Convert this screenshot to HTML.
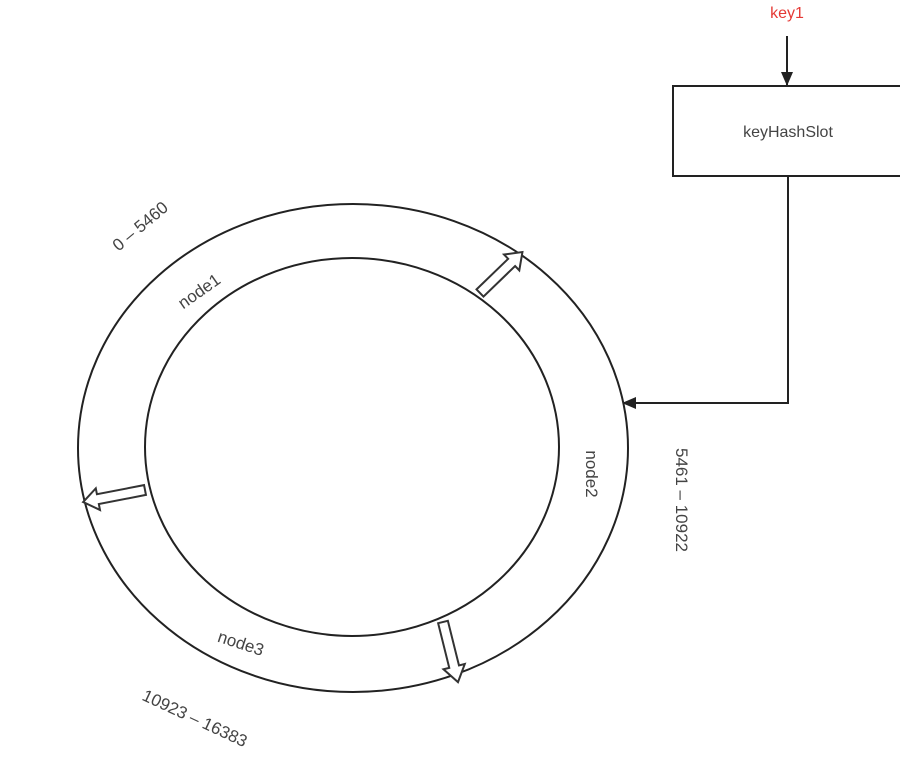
<!DOCTYPE html>
<html><head><meta charset="utf-8"><style>
html,body{margin:0;padding:0;background:#fff;width:900px;height:773px;overflow:hidden}
text{font-family:"Liberation Sans",sans-serif;fill:#444;font-size:17px}
</style></head><body>
<svg width="900" height="773" viewBox="0 0 900 773" xmlns="http://www.w3.org/2000/svg">
<defs>
<marker id="ah" markerWidth="12" markerHeight="14" refX="13" refY="6" orient="auto" markerUnits="userSpaceOnUse">
<path d="M0,0 L14,6 L0,12 z" fill="#222"/>
</marker>
</defs>
<text x="787" y="18" text-anchor="middle" style="fill:#e53935;font-size:16px">key1</text>
<line x1="787" y1="36" x2="787" y2="85" stroke="#222" stroke-width="2" marker-end="url(#ah)"/>
<rect x="673" y="86" width="230" height="90" fill="#fff" stroke="#222" stroke-width="2"/>
<text x="788" y="137" text-anchor="middle" style="font-size:16px">keyHashSlot</text>
<polyline points="788,176 788,403 623,403" fill="none" stroke="#222" stroke-width="2" marker-end="url(#ah)"/>
<ellipse cx="353" cy="448" rx="275" ry="244" fill="none" stroke="#222" stroke-width="2"/>
<ellipse cx="352" cy="447" rx="207" ry="189" fill="none" stroke="#222" stroke-width="2"/>
<g fill="#fff" stroke="#333" stroke-width="2" stroke-linejoin="miter">
<polygon transform="translate(480,293) rotate(-44)" points="0,-5 44,-5 44,-11 59,0 44,11 44,5 0,5"/>
<polygon transform="translate(145,490) rotate(169)" points="0,-5 48,-5 48,-11 63,0 48,11 48,5 0,5"/>
<polygon transform="translate(443,622) rotate(76)" points="0,-5 46,-5 46,-11 62,0 46,11 46,5 0,5"/>
</g>
<text transform="translate(140,226) rotate(-40)" text-anchor="middle" dy="6">0 – 5460</text>
<text transform="translate(199,291) rotate(-35)" text-anchor="middle" dy="6">node1</text>
<text transform="translate(592,474) rotate(90)" text-anchor="middle" dy="6">node2</text>
<text transform="translate(682,500) rotate(90)" text-anchor="middle" dy="6">5461 – 10922</text>
<text transform="translate(241,643) rotate(18)" text-anchor="middle" dy="6">node3</text>
<text transform="translate(195,718) rotate(25)" text-anchor="middle" dy="6">10923 – 16383</text>
</svg>
</body></html>
